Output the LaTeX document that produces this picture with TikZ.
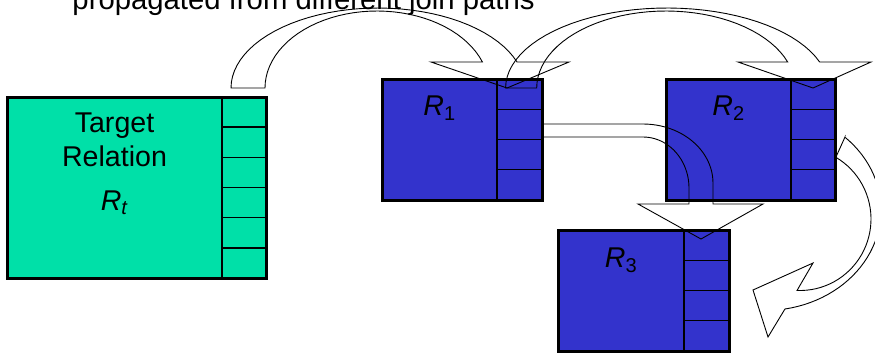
\documentclass[tikz,border=0pt]{standalone}
\usepackage{fontspec}
\setmainfont{Liberation Sans}
\usepackage{tikz}
\usetikzlibrary{positioning}

\definecolor{tgtgreen}{RGB}{0,224,168}
\definecolor{relblue}{RGB}{51,51,204}

\newcommand{\relsym}[1]{\textit{R}\textsubscript{#1}}

\begin{document}
\begin{tikzpicture}[
    x=1bp, y=-1bp,
    relation/.style={draw=black, line width=3bp, inner sep=0pt, outer sep=0pt, anchor=north west},
    cell/.style={draw=black, line width=1.4bp, inner sep=0pt, outer sep=0pt, anchor=north east},
    lbl/.style={font=\fontsize{28.6bp}{34bp}\selectfont, inner sep=0pt, anchor=base},
    joinarrow/.style={draw=black, line width=0.9bp, line join=miter}
  ]
    \useasboundingbox (0,0) rectangle (875,353);
    \clip (0,0) rectangle (875,353);

    \node[lbl, font=\fontsize{29.3bp}{34bp}\selectfont] (title) at (303.5,9) {propagated from different join paths};

    % relations, each with its column of tuple cells
    \node[relation, fill=tgtgreen, minimum width=259bp, minimum height=181bp] (Rt) at (7,97) {};
    \foreach \i in {0,...,5}
      \node[cell, minimum width=44bp, minimum height=181bp/6] (Rtc\i) at ([yshift=-\i*181bp/6]Rt.north east) {};

    \node[relation, fill=relblue, minimum width=160bp, minimum height=121bp] (R1) at (382,79) {};
    \foreach \i in {0,...,3}
      \node[cell, minimum width=45bp, minimum height=30.25bp] (R1c\i) at ([yshift=-\i*30.25bp]R1.north east) {};

    \node[relation, fill=relblue, minimum width=169bp, minimum height=121bp] (R2) at (666,79) {};
    \foreach \i in {0,...,3}
      \node[cell, minimum width=44bp, minimum height=30.25bp] (R2c\i) at ([yshift=-\i*30.25bp]R2.north east) {};

    \node[relation, fill=relblue, minimum width=171bp, minimum height=121bp] (R3) at (558,230) {};
    \foreach \i in {0,...,3}
      \node[cell, minimum width=45bp, minimum height=30.25bp] (R3c\i) at ([yshift=-\i*30.25bp]R3.north east) {};

    \node[lbl] (tgt) at (114.5,132) {Target};
    \node[lbl] (relword) at ([yshift=-34bp]tgt.base) {Relation};
    \node[lbl] (Rtlbl) at ([yshift=-78bp]tgt.base) {\relsym{\textit{t}}};
    \node[lbl] (R1lbl) at (439.5,115) {\relsym{1}};
    \node[lbl] (R2lbl) at (728.5,115) {\relsym{2}};
    \node[lbl] (R3lbl) at (621,267) {\relsym{3}};

    % curved block arrows: Rt -> R1, R1 -> R2
    \draw[joinarrow] (231,88)
      -- plot[domain=180:341.03, samples=40] ({378+147*cos(\x)},{88+80*sin(\x)})
      -- (569,62) -- (507,88) -- (431,62)
      -- plot[domain=340.27:180, samples=40] ({377+112*cos(\x)},{88+77*sin(\x)})
      -- cycle;
    \draw[joinarrow] (505.6,88)
      -- plot[domain=180:341.03, samples=40] ({667+161.4*cos(\x)},{88+80*sin(\x)})
      -- (871,62) -- (813,88) -- (738,62)
      -- plot[domain=340.27:180, samples=40] ({666+129.3*cos(\x)},{88+77*sin(\x)})
      -- cycle;

    % R1 -> R3, bent down past R2
    \draw[joinarrow] (542,124) -- (643,124)
      -- plot[domain=270:360, samples=25] ({643+70*cos(\x)},{183+59*sin(\x)})
      -- (713,204) -- (763,204) -- (701,239) -- (638,204) -- (689,204) -- (689,188)
      -- plot[domain=360:270, samples=25] ({643+46*cos(\x)},{188+51*sin(\x)})
      -- (542,137) -- cycle;

    % R2 -> R3, round the right side
    \draw[joinarrow] (845,137)
      -- plot[domain=-46.4:80.1, samples=40] ({765+116*cos(\x)},{210+100.5*sin(\x)})
      -- (768,337) -- (753,290) -- (813,263)
      -- plot[domain=92.4:-59.7, samples=40] ({800+71*cos(\x)},{219+71.5*sin(\x)})
      -- cycle;
\end{tikzpicture}
\end{document}
